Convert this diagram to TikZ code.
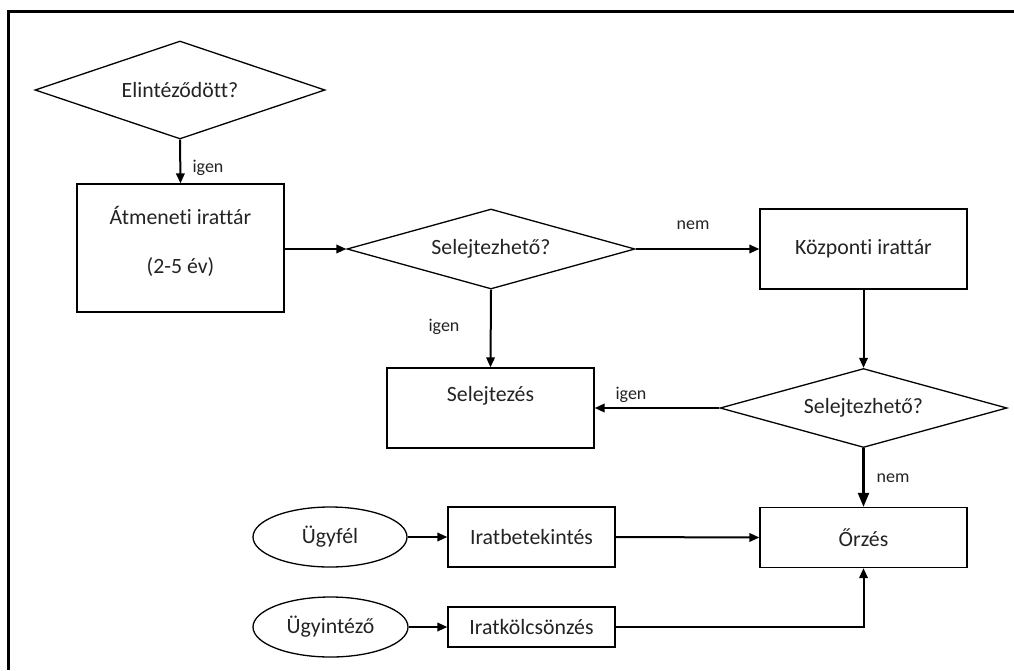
\documentclass[tikz,border=0pt]{standalone}
\usepackage{fontspec}
\setmainfont{Carlito}[Ligatures={NoCommon}]
\usetikzlibrary{shapes.geometric,arrows.meta}
\definecolor{txtc}{RGB}{35,35,35}
\begin{document}
\begin{tikzpicture}[x=1pt,y=-1pt,
  mainfont/.style={font=\fontsize{21.8}{26}\selectfont, text=txtc},
  proc/.style={draw, line width=1.3pt, inner sep=0pt, mainfont},
  dec/.style={draw, diamond, aspect=3.6, line width=1.3pt, inner sep=0pt, mainfont},
  term/.style={draw, ellipse, line width=1.3pt, inner sep=0pt, mainfont},
  txt/.style={inner sep=0pt, mainfont},
  lbl/.style={inner sep=0pt, font=\fontsize{18}{22}\selectfont, text=txtc},
  flow/.style={line width=2pt, -{Triangle[length=10pt,width=8.5pt]}},
  flowbig/.style={line width=2.2pt, -{Triangle[length=14pt,width=11pt]}}
]
\useasboundingbox (0,0) rectangle (1014,670);
\draw[line width=3pt] (8.5,670) -- (8.5,11) -- (1014,11);

\node[dec, minimum width=290pt, minimum height=98pt] (q1) at (180,90) {Elintéződött?};
\node[proc, minimum width=207pt, minimum height=128pt] (atm) at (180.5,248) {};
\node[txt] (atm1) at (180.5,215) {Átmeneti irattár};
\node[txt] (atm2) at (180.5,267) {(2-5 év)};
\node[dec, minimum width=288pt, minimum height=80pt] (q2) at (491,249) {Selejtezhető?};
\node[proc, minimum width=207pt, minimum height=80pt] (kozp) at (863.5,249) {Központi irattár};
\node[dec, minimum width=287pt, minimum height=79pt] (q3) at (863.5,408) {Selejtezhető?};
\node[proc, minimum width=207pt, minimum height=80pt] (sel) at (490.5,408) {};
\node[txt] (selt) at (490.5,396) {Selejtezés};
\node[proc, minimum width=207pt, minimum height=60pt] (orz) at (863.5,537.5) {Őrzés};
\node[term, minimum width=154pt, minimum height=60pt] (ugyf) at (330,537) {Ügyfél};
\node[proc, minimum width=167pt, minimum height=60pt] (bet) at (531.5,537) {Iratbetekintés};
\node[term, minimum width=155pt, minimum height=60pt] (ugyi) at (330.5,627) {Ügyintéző};
\node[proc, minimum width=167pt, minimum height=40pt] (kol) at (531.5,627) {Iratkölcsönzés};

\draw[flow] (q1.south) -- (atm.north);
\draw[flow] (atm.east |- q2.west) -- (q2.west);
\draw[flow] (q2.east) -- (kozp.west);
\draw[flow] (q2.south) -- (sel.north);
\draw[flow] (kozp.south) -- (q3.north);
\draw[flow] (q3.west) -- (sel.east);
\draw[flowbig] (q3.south) -- (orz.north);
\draw[flow] (ugyf.east) -- (bet.west);
\draw[flow] (bet.east) -- (orz.west);
\draw[flow] (ugyi.east) -- (kol.west);
\draw[flow] (kol.east) -| (orz.south);

\node[lbl] (l1) at (208,168) {igen};
\node[lbl] (l2) at (693,225) {nem};
\node[lbl] (l3) at (444,327) {igen};
\node[lbl] (l4) at (631,395) {igen};
\node[lbl] (l5) at (893,478) {nem};
\end{tikzpicture}
\end{document}
